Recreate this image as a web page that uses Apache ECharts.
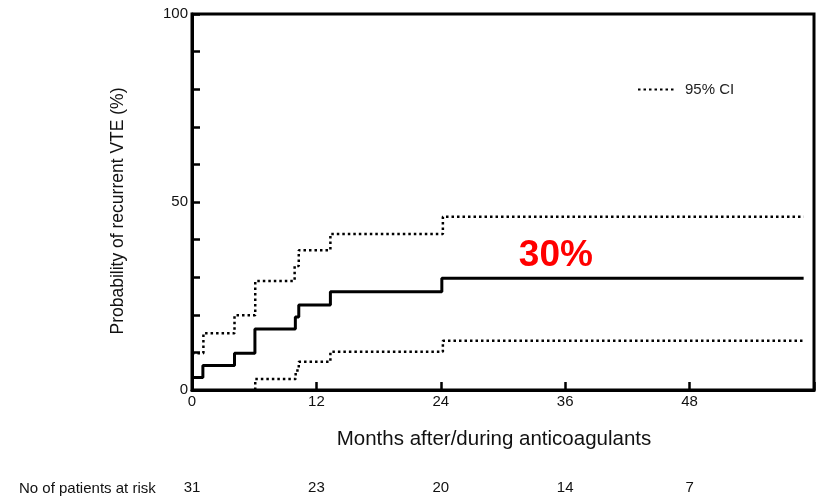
<!DOCTYPE html>
<html>
<head>
<meta charset="utf-8">
<script src="https://cdn.jsdelivr.net/npm/echarts@6/dist/echarts.min.js"></script>
<style>
html,body{margin:0;padding:0;background:#fff;}
#c{width:817px;height:497px;}
</style>
</head>
<body>
<div id="c"></div>
<script>
// ---- data ----
const estMonths   = [0, 1.05, 4.1, 6.07, 9.97, 10.3, 13.35, 24.1, 59];
const estValues   = [3.3, 6.5, 9.8, 16.2, 19.4, 22.6, 26.1, 29.7, 29.7];
const upperMonths = [0, 1.1, 4.1, 6.1, 9.9, 10.3, 13.35, 24.2, 59];
const upperValues = [9.8, 15.1, 19.9, 29.0, 33.0, 37.2, 41.5, 46.1, 46.1];
const lowerMonths = [6.1, 6.1, 10.0, 10.3, 13.35, 24.2, 59];
const lowerValues = [0, 2.9, 5.2, 7.5, 10.2, 13.1, 13.1];
const riskMonths  = [0, 12, 24, 36, 48];
const riskCounts  = [31, 23, 20, 14, 7];
const yLabelTicks = [0, 50, 100];
const annotText   = '30%';
const annotAt     = [35.1, 35.8];

const FONT = 'Liberation Sans, Arial, sans-serif';
const zip = (xs, ys) => xs.map((x, i) => [x, ys[i]]);

const dotted = { color: '#000', width: 2.5, type: [2.5, 3], cap: 'butt' };

const chart = echarts.init(document.getElementById('c'), null, { renderer: 'canvas' });
chart.setOption({
  animation: false,
  backgroundColor: '#fff',
  textStyle: { fontFamily: FONT },
  grid: {
    left: 192, right: 3, top: 14, bottom: 107,
    show: true, borderColor: '#000', borderWidth: 3, backgroundColor: 'transparent'
  },
  legend: {
    data: ['95% CI'],
    left: 632, top: 77,
    itemWidth: 38, itemHeight: 14,
    itemStyle: { opacity: 0 },
    textStyle: { fontFamily: FONT, fontSize: 15, color: '#222', padding: [0, 0, 0, 4] },
    selectedMode: false
  },
  xAxis: [{
    type: 'value', min: 0, max: 60, interval: 12,
    axisLine: { show: true, onZero: false, lineStyle: { color: '#000', width: 3 } },
    axisTick: { show: true, inside: true, length: 8, lineStyle: { color: '#000', width: 2.5 } },
    axisLabel: {
      margin: 4, fontSize: 15, color: '#111', fontFamily: FONT,
      formatter: v => (v === 60 ? '' : String(v))
    },
    splitLine: { show: false }
  }, {
    type: 'value', min: 0, max: 60, interval: 12, position: 'bottom', offset: 90,
    axisLine: { show: false }, axisTick: { show: false }, splitLine: { show: false },
    axisLabel: {
      margin: 0, fontSize: 15, color: '#111', fontFamily: FONT,
      formatter: v => { const i = riskMonths.indexOf(v); return i >= 0 ? String(riskCounts[i]) : ''; }
    }
  }],
  yAxis: {
    type: 'value', min: 0, max: 100, interval: 10,
    axisLine: { show: true, onZero: false, lineStyle: { color: '#000', width: 3 } },
    axisTick: { show: true, inside: true, length: 8, lineStyle: { color: '#000', width: 2.5 } },
    axisLabel: {
      margin: 4, fontSize: 15, color: '#111', fontFamily: FONT,
      formatter: v => (yLabelTicks.includes(v) ? String(v) : '')
    },
    splitLine: { show: false }
  },
  graphic: [
    { type: 'text', x: 118, y: 211, rotation: Math.PI / 2,
      style: { text: 'Probability of recurrent VTE (%)', font: '17.5px ' + FONT, fill: '#111',
               textAlign: 'center', textVerticalAlign: 'middle' } },
    { type: 'text', x: 494, y: 439,
      style: { text: 'Months after/during anticoagulants', font: '20.5px ' + FONT, fill: '#111',
               textAlign: 'center', textVerticalAlign: 'middle' } },
    { type: 'text', x: 19, y: 489,
      style: { text: 'No of patients at risk', font: '15px ' + FONT, fill: '#111',
               textAlign: 'left', textVerticalAlign: 'middle' } }
  ],
  series: [{
    name: 'Estimate', type: 'line', step: 'end', symbol: 'none',
    data: zip(estMonths, estValues),
    lineStyle: { color: '#000', width: 3 },
    markPoint: {
      symbol: 'circle', symbolSize: 0, silent: true,
      data: [{ coord: annotAt }],
      label: { show: true, position: 'inside', formatter: annotText,
               color: '#ff0000', fontSize: 37, fontWeight: 'bold', fontFamily: FONT }
    }
  }, {
    name: '95% CI', type: 'line', step: 'end', symbol: 'none',
    data: zip(upperMonths, upperValues), lineStyle: dotted, itemStyle: { color: '#000' }
  }, {
    name: '95% CI', type: 'line', step: 'end', symbol: 'none',
    data: zip(lowerMonths, lowerValues), lineStyle: dotted, itemStyle: { color: '#000' }
  }]
});
</script>
</body>
</html>
